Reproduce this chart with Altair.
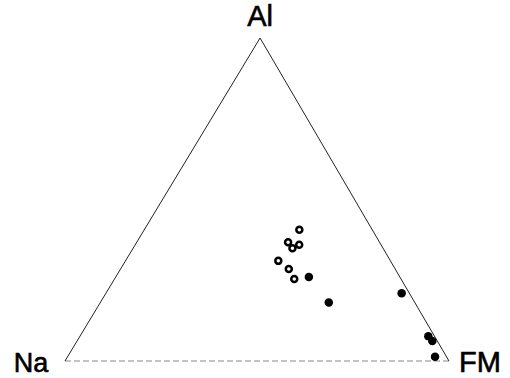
import altair as alt
import pandas as pd

# Ternary compositions (Al, Na, FM), in percent
open_al = [40.6, 36.8, 34.9, 36.0, 31.0, 28.5, 25.4]
open_na = [19.0, 23.8, 23.6, 21.3, 29.2, 27.7, 27.8]
open_fm = [40.4, 39.4, 41.5, 42.7, 39.8, 43.8, 46.8]

filled_al = [26.0, 18.1, 21.0, 7.7, 6.2, 1.3]
filled_na = [23.7, 22.4, 2.0, 1.6, 1.3, 3.0]
filled_fm = [50.3, 59.5, 77.0, 90.7, 92.5, 95.7]

vertex_names = ["Al", "Na", "FM"]
vertex_al = [100, 0, 0]
vertex_na = [0, 100, 0]
vertex_fm = [0, 0, 100]

# Horizontal position of the Al apex along the Na–FM base (0 = Na, 1 = FM)
APEX = 0.508

open_df = pd.DataFrame({"Al": open_al, "Na": open_na, "FM": open_fm})
filled_df = pd.DataFrame({"Al": filled_al, "Na": filled_na, "FM": filled_fm})
vert_df = pd.DataFrame({"name": vertex_names, "Al": vertex_al,
                        "Na": vertex_na, "FM": vertex_fm})

# Triangle edges as vertex sequences
edge_rows = []
for edge, (a, b) in {"left": ("Na", "Al"), "right": ("Al", "FM"),
                     "base": ("Na", "FM")}.items():
    for step, v in enumerate((a, b)):
        i = vertex_names.index(v)
        edge_rows.append({"edge": edge, "step": step, "Al": vertex_al[i],
                          "Na": vertex_na[i], "FM": vertex_fm[i]})
edges_df = pd.DataFrame(edge_rows)

tot = "(datum.Al + datum.Na + datum.FM)"
xs = alt.Scale(domain=[0, 1], nice=False, zero=False)
ys = alt.Scale(domain=[0, 1], nice=False, zero=False)
X = alt.X("tx:Q", scale=xs, axis=None)
Y = alt.Y("ty:Q", scale=ys, axis=None)


def ternary(chart):
    return chart.transform_calculate(
        tx=f"(datum.FM + {APEX} * datum.Al) / {tot}",
        ty=f"datum.Al / {tot}",
    )


sides = ternary(
    alt.Chart(edges_df).transform_filter("datum.edge != 'base'")
    .mark_line(color="#222222", strokeWidth=1)
).encode(x=X, y=Y, detail="edge:N", order="step:Q")

base = ternary(
    alt.Chart(edges_df).transform_filter("datum.edge == 'base'")
    .mark_line(color="#888888", strokeWidth=1, strokeDash=[6, 3])
).encode(x=X, y=Y, detail="edge:N", order="step:Q")

open_pts = ternary(
    alt.Chart(open_df).mark_point(shape="circle", filled=False, size=36,
                                  color="black", strokeWidth=2.5, opacity=1)
).encode(x=X, y=Y)

filled_pts = ternary(
    alt.Chart(filled_df).mark_point(shape="circle", filled=True, size=72,
                                    color="black", opacity=1)
).encode(x=X, y=Y)

label_font = dict(font="Liberation Sans", color="black", stroke="black",
                  strokeWidth=0.6, baseline="middle", align="center")

lab_al = ternary(
    alt.Chart(vert_df).transform_filter("datum.name == 'Al'")
    .mark_text(dy=-21, dx=0, fontSize=29, **label_font)
).encode(x=X, y=Y, text="name:N")

lab_na = ternary(
    alt.Chart(vert_df).transform_filter("datum.name == 'Na'")
    .mark_text(dx=-34, dy=3, fontSize=27, **label_font)
).encode(x=X, y=Y, text="name:N")

lab_fm = ternary(
    alt.Chart(vert_df).transform_filter("datum.name == 'FM'")
    .mark_text(dx=31, dy=2, fontSize=29, **label_font)
).encode(x=X, y=Y, text="name:N")

chart = (
    alt.layer(base, sides, open_pts, filled_pts, lab_al, lab_na, lab_fm)
    .properties(width=384, height=323,
                padding={"left": 65, "top": 38, "right": 61, "bottom": 17},
                autosize=alt.AutoSizeParams(type="none"),
                background="white")
    .configure_view(stroke=None)
)

chart.save("out.html", embed_options={"renderer": "svg", "actions": False})
